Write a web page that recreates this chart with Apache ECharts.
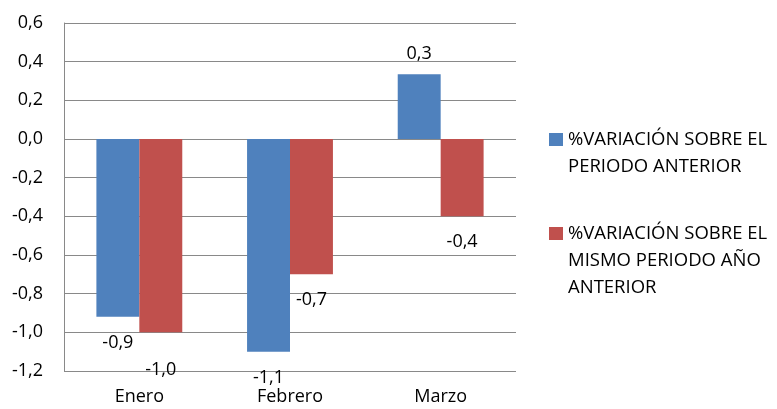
<!DOCTYPE html>
<html><head><meta charset="utf-8">
<script src="https://cdn.jsdelivr.net/npm/echarts@6/dist/echarts.min.js"></script>
<style>html,body{margin:0;padding:0;background:#fff}#c{width:777px;height:409px}</style>
</head><body><div id="c"></div>
<script>
const categories = ['Enero', 'Febrero', 'Marzo'];
const seriesNames = ['%VARIACIÓN SOBRE EL PERIODO ANTERIOR', '%VARIACIÓN SOBRE EL MISMO PERIODO AÑO ANTERIOR'];
const legendLines = [
  ['%VARIACIÓN SOBRE EL', 'PERIODO ANTERIOR'],
  ['%VARIACIÓN SOBRE EL', 'MISMO PERIODO AÑO', 'ANTERIOR']
];
const periodoAnterior = [-0.92, -1.10, 0.335];
const mismoPeriodo = [-1.00, -0.70, -0.40];
const yTicks = { min: -1.2, max: 0.6, interval: 0.2 };
const colors = ['#4F81BD', '#C0504D'];

const FONT = 'Open Sans';
const FS = 18;
const fmt = v => v.toFixed(1).replace('.', ',');
function mkData(arr, extra) {
  return arr.map((v, i) => ({
    value: v,
    label: {
      position: v >= 0 ? 'top' : 'bottom',
      distance: (extra && extra[i]) || (v >= 0 ? 11 : 17)
    }
  }));
}
const legendTops = [133, 227];
const graphic = [];
legendLines.forEach((lines, k) => {
  graphic.push({ type: 'rect', left: 549, top: legendTops[k], shape: { width: 14, height: 13 }, style: { fill: colors[k] } });
  graphic.push({ type: 'text', left: 568, top: legendTops[k] - 7,
    style: { text: lines.join('\n'), font: '18.5px "' + FONT + '"', lineHeight: 27, fill: '#000' } });
});
const chart = echarts.init(document.getElementById('c'));
chart.setOption({
  animation: false,
  textStyle: { fontFamily: FONT },
  grid: { left: 64, top: 23, width: 452, height: 348, containLabel: false },
  graphic: graphic,
  xAxis: {
    type: 'category', data: categories,
    axisLine: { show: false }, axisTick: { show: false },
    axisLabel: { fontFamily: FONT, fontSize: FS, color: '#000', margin: 17 }
  },
  yAxis: {
    type: 'value', min: yTicks.min, max: yTicks.max, interval: yTicks.interval,
    axisLine: { show: true, lineStyle: { color: '#898989', width: 1 } },
    axisTick: { show: false },
    splitLine: { lineStyle: { color: '#898989', width: 1 } },
    axisLabel: { fontFamily: FONT, fontSize: FS, color: '#000', margin: 21, formatter: fmt }
  },
  series: [
    {
      name: seriesNames[0], type: 'bar', data: mkData(periodoAnterior),
      itemStyle: { color: colors[0] }, barGap: '0%', barCategoryGap: '43%',
      label: { show: true, fontFamily: FONT, fontSize: FS, color: '#000', formatter: p => fmt(p.value) }
    },
    {
      name: seriesNames[1], type: 'bar', data: mkData(mismoPeriodo, [29, 17, 17]),
      itemStyle: { color: colors[1] }, barGap: '0%', barCategoryGap: '43%',
      label: { show: true, fontFamily: FONT, fontSize: FS, color: '#000', formatter: p => fmt(p.value) }
    }
  ]
});
</script></body></html>
